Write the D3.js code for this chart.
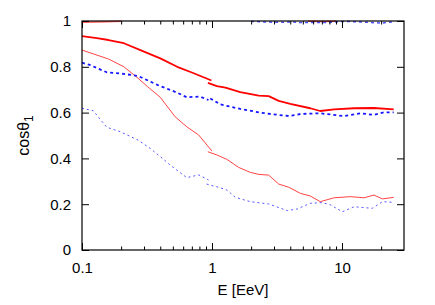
<!DOCTYPE html>
<html>
<head>
<meta charset="utf-8">
<script src="https://cdn.jsdelivr.net/npm/d3@7"></script>
<style>
  body { margin: 0; background: #fff; }
  svg { display: block; font-family: "Liberation Sans", Arial, sans-serif; }
  .axis path { display: none; }
  .axis line { stroke: #000; stroke-width: 1; }
  .axis text { fill: #000; font-size: 15px; }
</style>
</head>
<body>
<div id="chart"></div>
<script>

// tick labels
let xTicks = [0.1, 1, 10];
let xMinor = [0.2, 0.3, 0.4, 0.5, 0.6, 0.7, 0.8, 0.9, 2, 3, 4, 5, 6, 7, 8, 9, 20];
let yTicks = [0, 0.2, 0.4, 0.6, 0.8, 1];

// thick red, two runs that overlap near 1 EeV
let eRedThickA = [0.1, 0.13, 0.16, 0.21, 0.3, 0.4, 0.54, 0.7, 0.9, 0.99];
let cRedThickA = [0.934, 0.925, 0.917, 0.903, 0.866, 0.837, 0.800, 0.775, 0.750, 0.740];
let eRedThickB = [0.93, 1.09, 1.27, 1.65, 2.29, 2.73, 3.26, 4.0, 5.7, 6.8, 8.7, 12.4, 17.6, 25];
let cRedThickB = [0.730, 0.716, 0.709, 0.689, 0.674, 0.672, 0.651, 0.638, 0.619, 0.607, 0.614, 0.619, 0.620, 0.614];

// thin red
let eRedThinA = [0.1, 0.16, 0.21, 0.27, 0.32, 0.4, 0.52, 0.64, 0.79, 1.0];
let cRedThinA = [0.873, 0.834, 0.800, 0.750, 0.713, 0.667, 0.582, 0.538, 0.502, 0.432];
let eRedThinB = [0.93, 1.09, 1.3, 1.6, 1.97, 2.3, 2.73, 3.26, 3.9, 4.8, 5.7, 6.8, 8.7, 11.6, 14.8, 17.6, 20.5, 25];
let cRedThinB = [0.429, 0.415, 0.396, 0.361, 0.339, 0.330, 0.327, 0.288, 0.274, 0.247, 0.236, 0.211, 0.228, 0.233, 0.228, 0.240, 0.223, 0.230];

// thick blue dotted
let eBlueThickA = [0.1, 0.115, 0.155, 0.21, 0.27, 0.38, 0.54, 0.64, 0.81, 0.94];
let cBlueThickA = [0.818, 0.808, 0.776, 0.769, 0.760, 0.721, 0.687, 0.667, 0.670, 0.655];
let eBlueThickB = [0.97, 1.16, 1.65, 2.36, 2.9, 3.9, 4.8, 6.8, 10.3, 13.9, 17.6, 21, 25];
let cBlueThickB = [0.662, 0.636, 0.616, 0.600, 0.593, 0.585, 0.594, 0.597, 0.585, 0.597, 0.590, 0.601, 0.601];

// thin blue dotted
let eBlueThinA = [0.1, 0.122, 0.155, 0.196, 0.27, 0.334, 0.4, 0.477, 0.64, 0.79, 0.94];
let cBlueThinA = [0.619, 0.608, 0.536, 0.517, 0.480, 0.444, 0.408, 0.371, 0.316, 0.328, 0.306];
let eBlueThinB = [0.91, 1.03, 1.13, 1.3, 1.51, 1.97, 2.73, 3.79, 4.52, 5.7, 7.05, 8.17, 10.05, 12.4, 17.1, 20.5, 25];
let cBlueThinB = [0.288, 0.279, 0.274, 0.262, 0.230, 0.211, 0.201, 0.172, 0.179, 0.204, 0.207, 0.197, 0.167, 0.189, 0.182, 0.211, 0.208];

// curves that sit right on the top frame
let eRedTop = [0.1, 0.15, 0.2];
let cRedTop = [0.994, 0.997, 0.999];
let eRedTopHi = [5.5, 7, 9];
let cRedTopHi = [0.999, 0.998, 0.999];
let eBlueTop = [2.0, 2.5, 3.2, 4, 5, 6.3, 8, 10, 12.5, 16, 20, 25];
let cBlueTop = [0.999, 0.996, 0.994, 0.996, 0.993, 0.994, 0.993, 0.998, 0.997, 0.994, 0.991, 0.996];

let W = 435, H = 305,
    margin = {top: 21, left: 82, bottom: 55, right: 31},
    width = W - margin.left - margin.right,
    height = H - margin.top - margin.bottom;

let svg = d3.select('#chart').append('svg')
    .attr('width', W)
    .attr('height', H);

let x = d3.scaleLog().domain([0.1, 30]).range([margin.left, margin.left + width]);
let y = d3.scaleLinear().domain([0, 1]).range([margin.top + height, margin.top]);

let line = d3.line()
    .x(d => x(d[0]))
    .y(d => y(d[1]));

function pairs(es, cs) {
    return es.map((e, i) => [e, cs[i]]);
}

let series = [
    {e: eRedThickA, c: cRedThickA, color: '#ff0000', w: 1.8, dash: null},
    {e: eRedThickB, c: cRedThickB, color: '#ff0000', w: 1.8, dash: null},
    {e: eRedTop, c: cRedTop, color: '#ff5050', w: 1.5, dash: null},
    {e: eRedTopHi, c: cRedTopHi, color: '#ff5050', w: 1.5, dash: null},
    {e: eRedThinA, c: cRedThinA, color: '#ff4444', w: 1, dash: null},
    {e: eRedThinB, c: cRedThinB, color: '#ff4444', w: 1, dash: null},
    {e: eBlueThickA, c: cBlueThickA, color: '#1515ff', w: 1.8, dash: '3,3'},
    {e: eBlueThickB, c: cBlueThickB, color: '#1515ff', w: 1.8, dash: '3,3'},
    {e: eBlueTop, c: cBlueTop, color: '#5050ff', w: 1.5, dash: '3,3'},
    {e: eBlueThinA, c: cBlueThinA, color: '#5555ff', w: 1, dash: '2,3'},
    {e: eBlueThinB, c: cBlueThinB, color: '#5555ff', w: 1, dash: '2,3'}
];

svg.append('g').selectAll('path')
    .data(series)
    .enter().append('path')
    .attr('d', d => line(pairs(d.e, d.c)))
    .attr('fill', 'none')
    .attr('stroke', d => d.color)
    .attr('stroke-width', d => d.w)
    .attr('stroke-dasharray', d => d.dash)
    .attr('stroke-linejoin', 'round');

// axes, ticks pointing inwards
let fmt = d => d < 1 ? String(d) : d3.format('d')(d);

svg.append('g').attr('class', 'axis')
    .attr('transform', `translate(0,${margin.top + height})`)
    .call(d3.axisBottom(x).tickValues(xTicks).tickFormat(fmt).tickSizeInner(-7).tickSizeOuter(0).tickPadding(12));
svg.append('g').attr('class', 'axis')
    .attr('transform', `translate(0,${margin.top + height})`)
    .call(d3.axisBottom(x).tickValues(xMinor).tickFormat('').tickSizeInner(-3.5).tickSizeOuter(0));

svg.append('g').attr('class', 'axis')
    .attr('transform', `translate(0,${margin.top})`)
    .call(d3.axisTop(x).tickValues(xTicks).tickFormat('').tickSizeInner(-7).tickSizeOuter(0));
svg.append('g').attr('class', 'axis')
    .attr('transform', `translate(0,${margin.top})`)
    .call(d3.axisTop(x).tickValues(xMinor).tickFormat('').tickSizeInner(-3.5).tickSizeOuter(0));

svg.append('g').attr('class', 'axis')
    .attr('transform', `translate(${margin.left},0)`)
    .call(d3.axisLeft(y).tickValues(yTicks).tickFormat(d => d === 0 || d === 1 ? d3.format('d')(d) : d3.format('.1f')(d)).tickSizeInner(-7).tickSizeOuter(0).tickPadding(11));

svg.append('g').attr('class', 'axis')
    .attr('transform', `translate(${margin.left + width},0)`)
    .call(d3.axisRight(y).tickValues(yTicks).tickFormat('').tickSizeInner(-7).tickSizeOuter(0));

// frame
svg.append('rect')
    .attr('x', margin.left)
    .attr('y', margin.top)
    .attr('width', width)
    .attr('height', height)
    .attr('fill', 'none')
    .attr('stroke', '#000')
    .attr('stroke-width', 1.2);

// axis titles
svg.append('text')
    .attr('x', margin.left + width / 2)
    .attr('y', 295)
    .attr('text-anchor', 'middle')
    .style('font-size', '15px')
    .text('E [EeV]');

let ylab = svg.append('text')
    .attr('transform', `translate(29,${margin.top + height / 2}) rotate(-90)`)
    .attr('text-anchor', 'middle')
    .style('font-size', '16px');
ylab.append('tspan').text('cosθ');
ylab.append('tspan').attr('dy', 4).style('font-size', '12px').text('1');

</script>
</body>
</html>
